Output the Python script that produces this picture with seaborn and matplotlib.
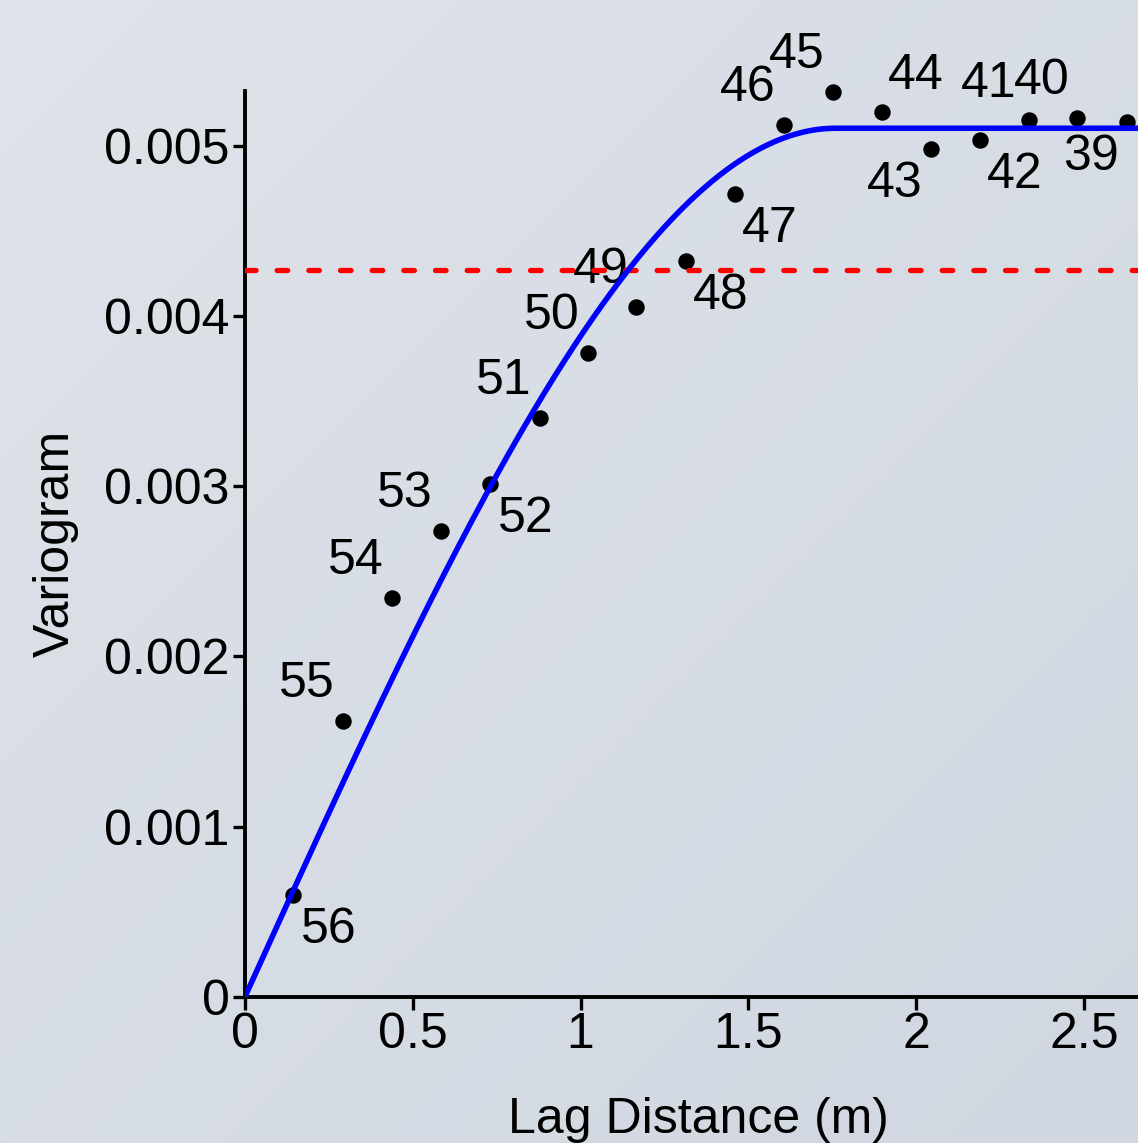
import numpy as np
import matplotlib
matplotlib.use("Agg")
import matplotlib.pyplot as plt
import seaborn as sns

lag_ids = [56, 55, 54, 53, 52, 51, 50, 49, 48, 47, 46, 45, 44, 43, 42, 41, 40, 39]
lag_dist = [0.144, 0.291, 0.438, 0.585, 0.731, 0.878, 1.021, 1.166, 1.314, 1.459,
            1.605, 1.752, 1.897, 2.043, 2.189, 2.335, 2.481, 2.628]
gamma = [0.000598, 0.001623, 0.002344, 0.002740, 0.003012, 0.003404, 0.003783,
         0.004056, 0.004325, 0.004717, 0.005125, 0.005320, 0.005203, 0.004984,
         0.005036, 0.005154, 0.005168, 0.005144]
# where each lag number sits relative to its point
label_side = ["lr", "ul", "ul", "ul", "lr", "ul", "ul", "ul", "lr", "lr",
              "ul", "ul", "ur", "ll", "lr", "ul2", "ul", "ll"]

# fitted spherical model and sample variance
sill = 0.005105
model_range = 1.76
sample_var = 0.004272

sns.set_theme(style="ticks")
plt.rcParams['font.family'] = ['Liberation Sans', 'DejaVu Sans']

FS = 36

fig = plt.figure(figsize=(11.38, 11.43), dpi=100)

# soft diagonal background gradient
bg = fig.add_axes([0, 0, 1, 1], zorder=-10)
gx, gy = np.meshgrid(np.linspace(0, 1, 200), np.linspace(0, 1, 200))
t = (gx + gy) / 2
c0 = np.array([223, 227, 234]) / 255
c1 = np.array([208, 215, 224]) / 255
img = c0[None, None, :] * (1 - t[..., None]) + c1[None, None, :] * t[..., None]
bg.imshow(img, aspect='auto', extent=[0, 1, 0, 1], origin='upper')
bg.axis('off')
fig.patch.set_facecolor(c0)

ax = fig.add_axes([0.2153, 0.128, 0.7961, 0.7927])
ax.set_facecolor('none')

sns.scatterplot(x=lag_dist, y=gamma, ax=ax, s=140, color='black', linewidth=0,
                zorder=3, clip_on=False)

# label offsets in pixels (the 41 label sits a bit further left, as in the source)
offsets = {"ul": (-36, 37), "ul2": (-40, 36), "lr": (35, -35),
           "ur": (34, 36), "ll": (-36, -35)}
for lid, xv, yv, side in zip(lag_ids, lag_dist, gamma, label_side):
    ax.annotate(str(lid), (xv, yv), xytext=offsets[side], textcoords='offset pixels',
                ha='center', va='center', fontsize=FS, color='black', zorder=2,
                annotation_clip=False)

ax.axhline(sample_var, color='#ff0000', lw=3.8, dashes=(2.0, 4.0),
           dash_capstyle='round', zorder=4)

h = np.linspace(0, 2.75, 400)
hr = np.minimum(h / model_range, 1.0)
model = sill * (1.5 * hr - 0.5 * hr ** 3)
sns.lineplot(x=h, y=model, ax=ax, color='#0000ff', lw=4.0, estimator=None,
             sort=False, zorder=5)

ax.set_xlim(0, 2.70)
ax.set_ylim(0, 0.005326)
ax.set_xticks([0, 0.5, 1, 1.5, 2, 2.5])
ax.set_xticklabels(['0', '0.5', '1', '1.5', '2', '2.5'])
ax.set_yticks([0, 0.001, 0.002, 0.003, 0.004, 0.005])
ax.set_yticklabels(['0', '0.001', '0.002', '0.003', '0.004', '0.005'])

for side in ['top', 'right']:
    ax.spines[side].set_visible(False)
for side in ['left', 'bottom']:
    ax.spines[side].set_linewidth(2.8)
    ax.spines[side].set_color('black')
ax.tick_params(axis='both', direction='out', length=9, width=2.4, pad=2,
               labelsize=FS, colors='black')

ax.set_xlabel('Lag Distance (m)', fontsize=FS, labelpad=28, color='black')
ax.set_ylabel('Variogram', fontsize=FS, labelpad=18, color='black')

fig.savefig('out.png', dpi=100, facecolor=fig.get_facecolor())
